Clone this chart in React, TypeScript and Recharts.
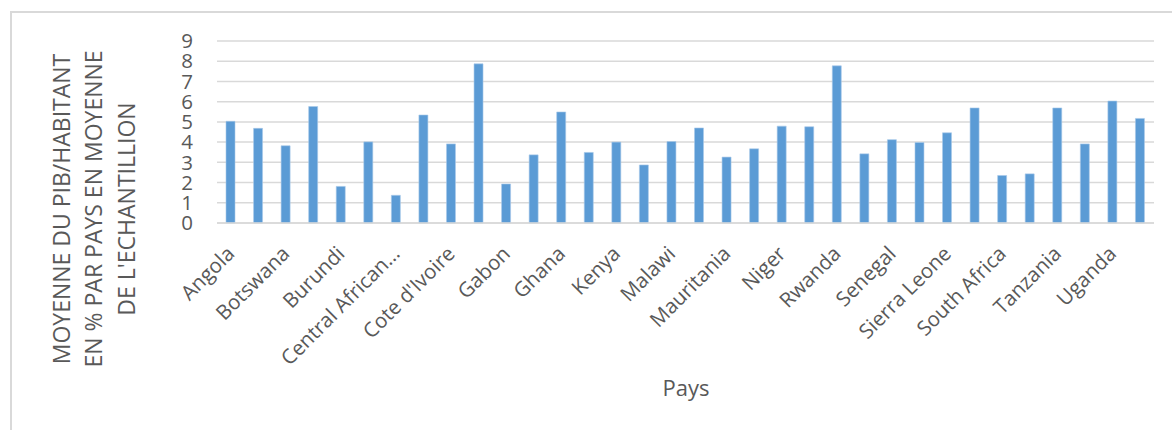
import React from "react";
import { BarChart, Bar, XAxis, YAxis, CartesianGrid } from "recharts";

const countries: string[] = [
  "Angola", "Benin", "Botswana", "Burkina Faso", "Burundi", "Cameroon",
  "Central African Republic", "Chad", "Cote d'Ivoire", "Ethiopia", "Gabon", "Gambia",
  "Ghana", "Guinea", "Kenya", "Madagascar", "Malawi", "Mali",
  "Mauritania", "Mozambique", "Niger", "Nigeria", "Rwanda", "Sao Tome",
  "Senegal", "Seychelles", "Sierra Leone", "Somalia", "South Africa", "Sudan",
  "Tanzania", "Togo", "Uganda", "Zambia",
];

const values: number[] = [
  5.03, 4.68, 3.82, 5.76, 1.81, 4.01,
  1.37, 5.34, 3.91, 7.87, 1.93, 3.37,
  5.49, 3.49, 4.0, 2.87, 4.03, 4.7,
  3.26, 3.67, 4.79, 4.76, 7.77, 3.42,
  4.12, 3.98, 4.46, 5.69, 2.35, 2.43,
  5.69, 3.91, 6.03, 5.17,
];

const yTicks: number[] = [0, 1, 2, 3, 4, 5, 6, 7, 8, 9];

const yTitleLines: string[] = [
  "MOYENNE DU PIB/HABITANT",
  "EN % PAR PAYS EN MOYENNE",
  "DE L'ECHANTILLION",
];

const xTitle = "Pays";

const data = countries.map((c, i) => ({ pays: c, value: values[i] }));

const FONT = "'Open Sans', 'DejaVu Sans', sans-serif";
const TEXT = "#595959";

const shorten = (s: string) => (s.length > 16 ? s.slice(0, 15) + "\u2026" : s);

const XTick = (props: any) => {
  const { x, y, payload } = props;
  const bx = x + 5;
  const by = y + 24;
  return (
    <text
      x={bx}
      y={by}
      textAnchor="end"
      transform={`rotate(-45, ${bx}, ${by})`}
      fill={TEXT}
      fontSize={20.5}
      fontFamily={FONT}
    >
      {shorten(String(payload.value))}
    </text>
  );
};

const YTitle = () => {
  const xs = [70, 102, 135];
  const cy = 209;
  return (
    <g>
      {yTitleLines.map((t, i) => (
        <text
          key={i}
          x={xs[i]}
          y={cy}
          textAnchor="middle"
          transform={`rotate(-90, ${xs[i]}, ${cy})`}
          fill={TEXT}
          fontSize={23}
          fontFamily={FONT}
        >
          {t}
        </text>
      ))}
    </g>
  );
};

const XTitle = () => (
  <text x={686} y={396} textAnchor="middle" fill={TEXT} fontSize={22} fontFamily={FONT}>
    {xTitle}
  </text>
);

export default function App() {
  return (
    <div
      style={{
        position: "absolute",
        left: 0,
        top: 0,
        width: 1172,
        height: 430,
        overflow: "hidden",
        background: "#fff",
        fontFamily: FONT,
      }}
    >
      <div
        style={{
          position: "absolute",
          left: 10,
          top: 11,
          width: 1200,
          height: 460,
          border: "2px solid #D9D9D9",
          boxSizing: "border-box",
        }}
      />
      <div style={{ position: "absolute", left: 0, top: 0 }}>
        <BarChart
          width={1172}
          height={430}
          data={data}
          margin={{ top: 41, right: 18, bottom: 27, left: 157 }}
        >
          <CartesianGrid vertical={false} stroke="#D9D9D9" strokeWidth={1.5} />
          <XAxis
            dataKey="pays"
            interval={1}
            height={180}
            tickLine={false}
            axisLine={{ stroke: "#D9D9D9", strokeWidth: 1.5 }}
            tick={<XTick />}
            label={{ content: () => <XTitle /> }}
          />
          <YAxis
            domain={[0, 9]}
            ticks={yTicks}
            interval={0}
            width={60}
            axisLine={false}
            tickLine={false}
            tickMargin={18}
            tick={{ fill: TEXT, fontSize: 20.5, fontFamily: FONT }}
            label={{ content: () => <YTitle /> }}
          />
          <Bar
            dataKey="value"
            fill="#5B9BD5"
            stroke="#A9CAEA"
            strokeWidth={0.6}
            barSize={9}
            isAnimationActive={false}
          />
        </BarChart>
      </div>
    </div>
  );
}
